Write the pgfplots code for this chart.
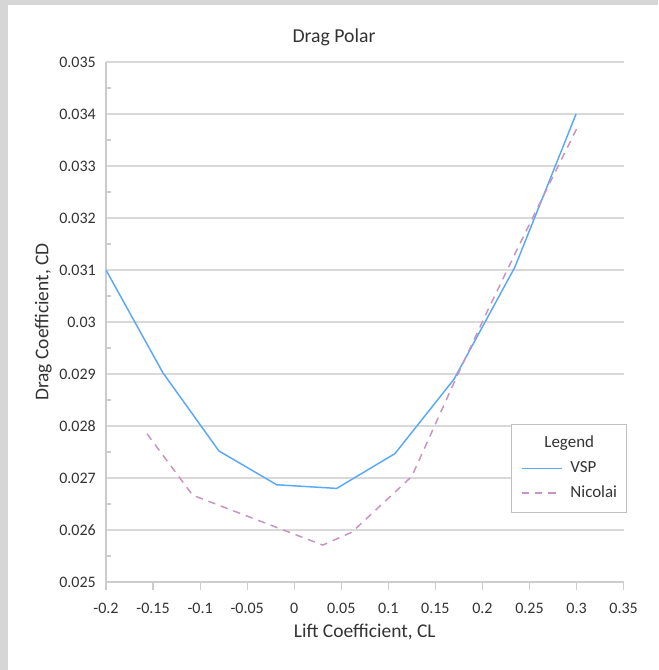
\documentclass[border=0pt]{standalone}
\usepackage{fontspec}
\setmainfont{Carlito}
\usepackage{pgfplots}
\usepackage{pgfplotstable}
\pgfplotsset{compat=1.18}
\definecolor{txt}{HTML}{333333}
\definecolor{gridc}{HTML}{D9D9D9}
\definecolor{axc}{HTML}{CCCCCC}
\definecolor{vsp}{HTML}{5AA8F8}
\definecolor{nic}{HTML}{C993C0}
\definecolor{bg}{HTML}{D6D6D6}
\definecolor{legc}{HTML}{BFBFBF}

\pgfplotstableread{
x y
-0.2000 0.03100
-0.1394 0.02902
-0.0800 0.02752
-0.0186 0.02687
0.0452 0.02680
0.1071 0.02747
0.1698 0.02890
0.2346 0.03106
0.2995 0.03400
}\vsptable

\pgfplotstableread{
x y
-0.1564 0.02785
-0.1080 0.02667
0.0303 0.02571
0.0614 0.02596
0.1249 0.02703
0.1720 0.02892
0.2050 0.03020
0.2370 0.03140
0.2690 0.03258
0.3005 0.03373
}\nictable

\begin{document}
\begin{tikzpicture}
\useasboundingbox (0,0) rectangle (493.5pt,-502.5pt);
\fill[bg] (0,0) rectangle (493.5pt,-502.5pt);
\fill[white] (6pt,-3.75pt) rectangle (493.5pt,-502.5pt);
\begin{axis}[
  at={(79.5pt,-436.5pt)}, anchor=south west,
  width=388.2pt, height=390pt, scale only axis,
  xmin=-0.2, xmax=0.35, ymin=0.025, ymax=0.035,
  scaled x ticks=false, scaled y ticks=false,
  axis x line*=bottom, axis y line*=left,
  axis line style={axc, line width=0.9pt, -},
  xtick={-0.2,-0.15,-0.1,-0.05,0,0.05,0.1,0.15,0.2,0.25,0.3,0.35},
  xticklabels={-0.2,-0.15,-0.1,-0.05,0,0.05,0.1,0.15,0.2,0.25,0.3,0.35},
  ytick={0.025,0.026,0.027,0.028,0.029,0.030,0.031,0.032,0.033,0.034,0.035},
  yticklabels={0.025,0.026,0.027,0.028,0.029,0.03,0.031,0.032,0.033,0.034,0.035},
  minor ytick={0.0255,0.0265,0.0275,0.0285,0.0295,0.0305,0.0315,0.0325,0.0335,0.0345},
  ymajorgrids,
  major grid style={gridc, line width=0.9pt},
  xtick align=outside, ytick align=inside,
  major tick length=6pt, minor tick length=4pt,
  major x tick style={axc, line width=0.9pt},
  major y tick style={draw=none},
  minor y tick style={axc, line width=0.9pt},
  tick label style={font=\fontsize{12}{14}\selectfont, text=txt},
  xticklabel style={anchor=north, inner sep=0pt, yshift=-9.75pt},
  yticklabel style={anchor=east, inner sep=0pt, xshift=-7.5pt},
  /pgf/number format/assume math mode=true,
  every axis title shift=0pt,
  title={Drag Polar},
  title style={at={(0.4405,1.0371)}, anchor=base, font=\fontsize{14.8}{17}\selectfont, text=txt},
  xlabel={Lift Coefficient, CL},
  xlabel style={at={(0.5,-0.1071)}, anchor=base, font=\fontsize{14.6}{17}\selectfont, text=txt},
  ylabel={Drag Coefficient, CD},
  ylabel style={at={(-0.1115,0.5)}, anchor=base, rotate=0, font=\fontsize{14.6}{17}\selectfont, text=txt},
  legend cell align=left,
  legend image code/.code={\draw[#1] (0pt,0pt) -- (30pt,0pt);},
  legend style={at={(1.0066,0.3038)}, anchor=north east, draw=legc, line width=0.9pt, fill=white,
    inner xsep=7pt, inner ysep=8.5pt, row sep=6.4pt, column sep=6pt,
    font=\fontsize{12.7}{15}\selectfont, text=txt,
    nodes={inner sep=0pt, text height=9pt, text depth=3pt}},
]
\addlegendimage{empty legend}
\addlegendentry{\hspace*{-19.5pt}Legend}
\addplot[vsp, line width=1.1pt, line join=round] table[x=x,y=y] {\vsptable};
\addlegendentry{VSP}
\addplot[nic, line width=1.1pt, line join=round, dash pattern=on 5.5pt off 4.5pt] table[x=x,y=y] {\nictable};
\addlegendentry{Nicolai}
\end{axis}
\end{tikzpicture}
\end{document}
